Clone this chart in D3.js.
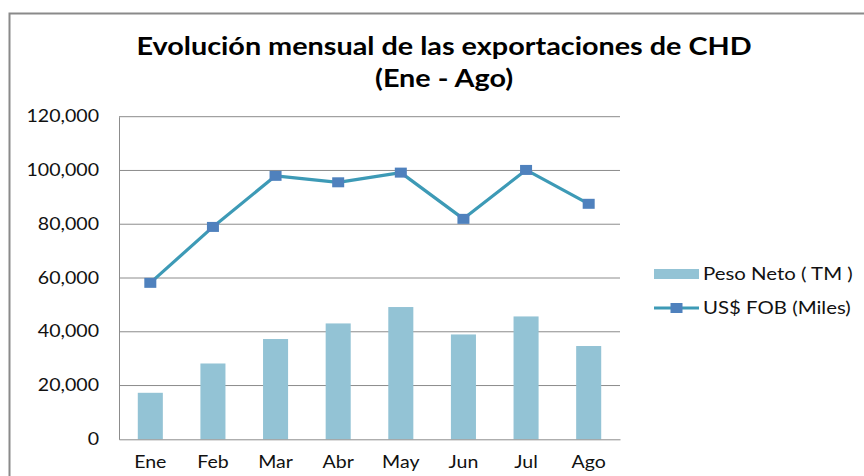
<!DOCTYPE html>
<html>
<head>
<meta charset="utf-8">
<script src="https://cdn.jsdelivr.net/npm/d3@7"></script>
<style>
  body { margin: 0; background: #fff; }
  svg { display: block; font-family: Lato, "Open Sans", sans-serif; }
</style>
</head>
<body>
<div id="chart"></div>
<script>
// chart data
var months = ["Ene", "Feb", "Mar", "Abr", "May", "Jun", "Jul", "Ago"];
var pesoNeto = [17300, 28200, 37300, 43100, 49200, 39000, 45700, 34700];
var fobMiles = [58200, 79000, 98000, 95600, 99200, 82000, 100200, 87600];
var yTicks = [0, 20000, 40000, 60000, 80000, 100000, 120000];
var seriesNames = ["Peso Neto ( TM )", "US$ FOB (Miles)"];
var titleLines = ["Evolución mensual de las exportaciones de CHD", "(Ene - Ago)"];

var W = 864, H = 476;
var sx = 1.2; // the picture is a bit stretched sideways
var margin = { top: 116.7, right: 244, bottom: 36.7, left: 119 };

var svg = d3.select("#chart").append("svg")
    .attr("width", W)
    .attr("height", H);

// outer frame (cut by the window on the right and bottom)
svg.append("rect")
    .attr("x", 9.5).attr("y", 13.5)
    .attr("width", 900).attr("height", 500)
    .attr("fill", "none")
    .attr("stroke", "#8a8a8a")
    .attr("stroke-width", 2);

// title
var title = svg.append("g");
title.selectAll("text")
    .data(titleLines)
    .enter().append("text")
    .attr("transform", function (d, i) { return "translate(444," + (54.5 + i * 32) + ") scale(" + sx + ",1)"; })
    .attr("text-anchor", "middle")
    .attr("font-size", 24)
    .attr("font-weight", "bold")
    .attr("fill", "#000")
    .text(function (d) { return d; });

var x = d3.scaleBand()
    .domain(months)
    .range([margin.left, W - margin.right])
    .paddingInner(0.6)
    .paddingOuter(0.3);

var y = d3.scaleLinear()
    .domain([0, 120000])
    .range([H - margin.bottom, margin.top]);

// gridlines
svg.append("g")
    .selectAll("line")
    .data(yTicks.slice(1))
    .enter().append("line")
    .attr("x1", margin.left).attr("x2", W - margin.right)
    .attr("y1", function (d) { return y(d); })
    .attr("y2", function (d) { return y(d); })
    .attr("stroke", "#8c8c8c")
    .attr("stroke-width", 1);

// y axis
var yAxis = svg.append("g")
    .attr("transform", "translate(" + margin.left + ",0)")
    .call(d3.axisLeft(y).tickValues(yTicks).tickSize(0).tickPadding(20 / sx)
        .tickFormat(d3.format(",")));
yAxis.select(".domain").attr("stroke", "#8c8c8c");
yAxis.selectAll("text")
    .attr("transform", "scale(" + sx + ",1)")
    .attr("font-size", 16.3)
    .attr("font-family", "Lato")
    .attr("fill", "#111");

// bars
svg.append("g")
    .selectAll("rect")
    .data(pesoNeto)
    .enter().append("rect")
    .attr("x", function (d, i) { return x(months[i]); })
    .attr("y", function (d) { return y(d); })
    .attr("width", x.bandwidth())
    .attr("height", function (d) { return y(0) - y(d); })
    .attr("fill", "#93c3d5");

// x axis
var xAxis = svg.append("g")
    .attr("transform", "translate(0," + y(0) + ")")
    .call(d3.axisBottom(x).tickSize(0).tickPadding(17.4));
xAxis.select(".domain").attr("stroke", "#8c8c8c");
xAxis.selectAll("text")
    .attr("transform", "scale(" + sx + ",1)")
    .attr("font-size", 16.3)
    .attr("font-family", "Lato")
    .attr("fill", "#111");

// line + markers
var line = d3.line()
    .x(function (d, i) { return x(months[i]) + x.bandwidth() / 2; })
    .y(function (d) { return y(d); });

svg.append("path")
    .datum(fobMiles)
    .attr("d", line)
    .attr("fill", "none")
    .attr("stroke", "#3d9ab6")
    .attr("stroke-width", 3.2)
    .attr("stroke-linejoin", "round");

svg.append("g")
    .selectAll("rect")
    .data(fobMiles)
    .enter().append("rect")
    .attr("x", function (d, i) { return x(months[i]) + x.bandwidth() / 2 - 6; })
    .attr("y", function (d) { return y(d) - 5; })
    .attr("width", 12)
    .attr("height", 10)
    .attr("fill", "#4f81bd");

// legend
var legend = svg.append("g").attr("transform", "translate(654,269)");
legend.append("rect")
    .attr("width", 45).attr("height", 10)
    .attr("fill", "#93c3d5");
legend.append("line")
    .attr("x1", 0).attr("x2", 45)
    .attr("y1", 39).attr("y2", 39)
    .attr("stroke", "#3d9ab6")
    .attr("stroke-width", 3.2);
legend.append("rect")
    .attr("x", 16.5).attr("y", 34)
    .attr("width", 12).attr("height", 10)
    .attr("fill", "#4f81bd");
legend.selectAll("text")
    .data(seriesNames)
    .enter().append("text")
    .attr("transform", function (d, i) { return "translate(49," + (11 + i * 34) + ") scale(" + sx + ",1)"; })
    .attr("font-size", 17)
    .attr("fill", "#111")
    .text(function (d) { return d; });
</script>
</body>
</html>
